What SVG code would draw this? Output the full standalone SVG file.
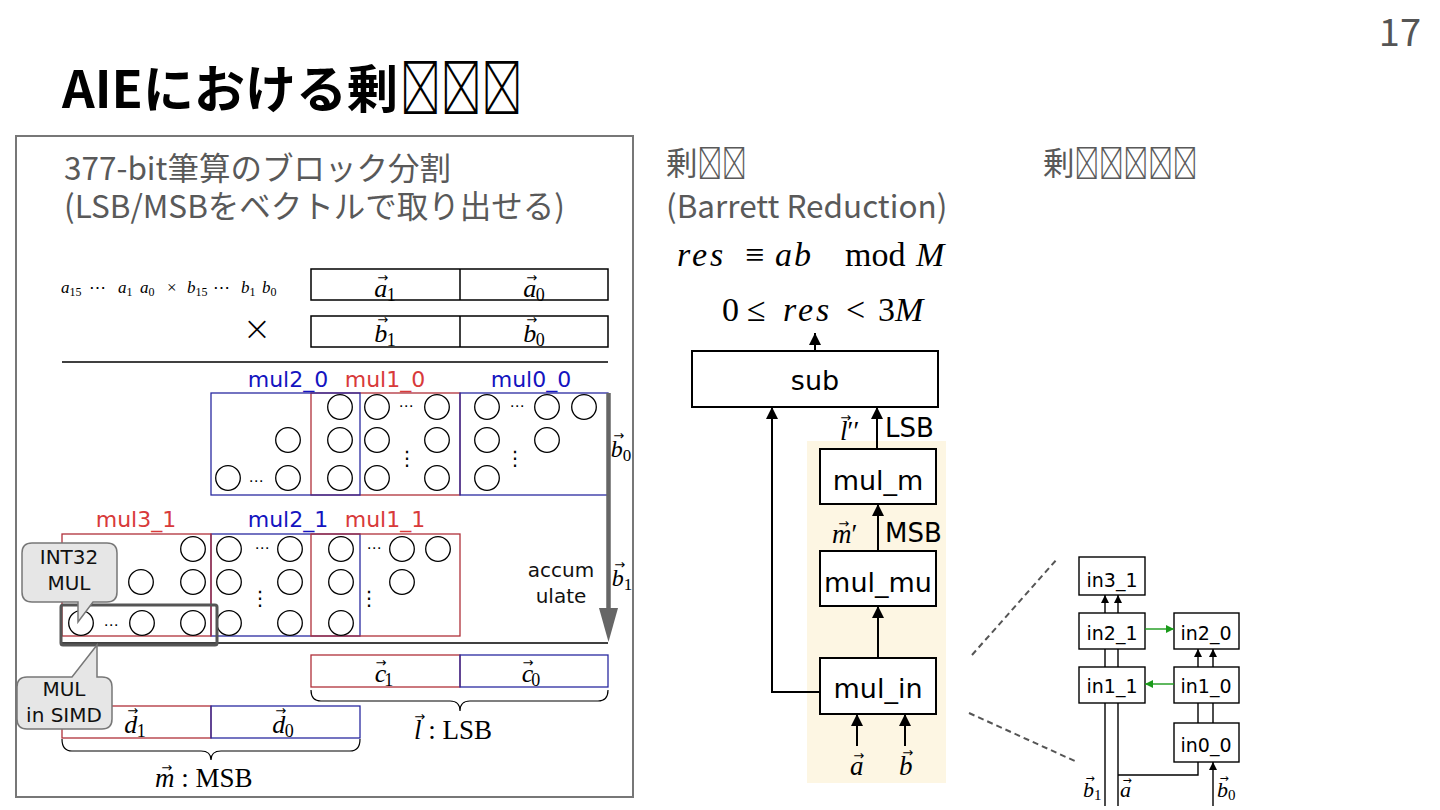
<svg xmlns="http://www.w3.org/2000/svg" width="1440" height="810" viewBox="0 0 1440 810">
<defs>
<style>
.hd{font-family:"Noto Sans CJK JP","Noto Sans",sans-serif;fill:#595959;font-size:31.5px}
.ttl{font-family:"Noto Sans CJK JP","Noto Sans",sans-serif;font-weight:bold;font-size:51px;fill:#000}
.ds{font-family:"DejaVu Sans",sans-serif}
.lab{font-family:"DejaVu Sans",sans-serif;font-size:22px;text-anchor:middle}
.m{font-family:"Liberation Serif","DejaVu Serif",serif;font-style:italic;fill:#000}
.r{font-style:normal}
.vt{font-family:"DejaVu Sans",sans-serif;font-size:13px;font-style:normal}
.vs{font-family:"DejaVu Sans",sans-serif;font-size:11px;font-style:normal}
.dots{font-family:"DejaVu Sans",sans-serif;font-size:15px;text-anchor:middle;fill:#000}
.vd{font-family:"DejaVu Sans",sans-serif;font-size:20px;text-anchor:middle;fill:#000}
.c{fill:#fff;stroke:#000;stroke-width:1.3}
.blue{fill:none;stroke:#2a2aa0;stroke-width:1.3}
.red{fill:none;stroke:#b0303a;stroke-width:1.3}
.bl{fill:#1414c0}
.rd{fill:#d83a3a}
.bx{fill:none;stroke:#000;stroke-width:1.5}
.box{fill:#fff;stroke:#000;stroke-width:2}
.sbox{fill:#fff;stroke:#000;stroke-width:1.4}
.ln{fill:none;stroke:#000;stroke-width:2}
.ln2{fill:none;stroke:#000;stroke-width:1.4}
.gr{fill:none;stroke:#1a9a1a;stroke-width:1.4}
.call{fill:#e6e6e6;stroke:#777;stroke-width:1.5}
.bt{font-family:"DejaVu Sans",sans-serif;font-size:27px;text-anchor:middle;fill:#000}
.st{font-family:"DejaVu Sans",sans-serif;font-size:19px;text-anchor:middle;fill:#000}
.ct{font-family:"DejaVu Sans",sans-serif;font-size:20px;text-anchor:middle;fill:#111}
.dash{fill:none;stroke:#555;stroke-width:2;stroke-dasharray:6 4}
</style>
<marker id="ah" viewBox="0 0 10 10" refX="10" refY="5" markerWidth="6" markerHeight="6" orient="auto"><path d="M0,0 L10,5 L0,10 z" fill="#000"/></marker>
<marker id="ahg" viewBox="0 0 10 10" refX="10" refY="5" markerWidth="6" markerHeight="6" orient="auto"><path d="M0,0 L10,5 L0,10 z" fill="#1a9a1a"/></marker>
</defs>
<rect width="1440" height="810" fill="#fff"/>

<!-- title and page number -->
<g id="title">
<text class="ttl" x="62" y="108">AIEにおける剰</text>
<text class="ttl" transform="translate(400,108) scale(0.8,1.04)">&#xE000;&#xE001;&#xE002;</text>
</g>
<text x="1421" y="46" text-anchor="end" style="font-family:'Noto Sans CJK JP','Noto Sans',sans-serif;font-size:38px;fill:#555">17</text>

<!-- left panel -->
<g id="left-panel">
<rect x="16" y="136" width="617" height="661" fill="none" stroke="#777" stroke-width="2"/>
<text class="hd" x="64" y="180">377-bit筆算のブロック分割</text>
<text class="hd" x="64" y="218">(LSB/MSBをベクトルで取り出せる)</text>

<text class="m" y="293" font-size="17"><tspan x="61">a</tspan><tspan class="r" font-size="12" dy="3">15</tspan><tspan class="r" x="89" dy="-3">⋯</tspan><tspan x="118">a</tspan><tspan class="r" font-size="12" dy="3">1</tspan><tspan x="140" dy="-3">a</tspan><tspan class="r" font-size="12" dy="3">0</tspan><tspan class="r" x="167" dy="-3">×</tspan><tspan x="187">b</tspan><tspan class="r" font-size="12" dy="3">15</tspan><tspan class="r" x="213" dy="-3">⋯</tspan><tspan x="241">b</tspan><tspan class="r" font-size="12" dy="3">1</tspan><tspan x="262" dy="-3">b</tspan><tspan class="r" font-size="12" dy="3">0</tspan></text>

<g id="vec-a">
<rect class="bx" x="311" y="269" width="297" height="31"/>
<line class="bx" x1="460" y1="269" x2="460" y2="300"/>
<text class="m" x="385" y="297" font-size="26" text-anchor="middle">a<tspan class="vt" dx="-9.95" dy="-15">→</tspan><tspan class="r" font-size="18" dx="-1.45" dy="19">1</tspan></text>
<text class="m" x="534" y="297" font-size="26" text-anchor="middle">a<tspan class="vt" dx="-9.95" dy="-15">→</tspan><tspan class="r" font-size="18" dx="-1.45" dy="19">0</tspan></text>
</g>
<text x="257" y="340" text-anchor="middle" style="font-family:'DejaVu Sans',sans-serif;font-size:34px;font-weight:200;fill:#000">×</text>
<g id="vec-b">
<rect class="bx" x="311" y="316" width="297" height="31"/>
<line class="bx" x1="460" y1="316" x2="460" y2="347"/>
<text class="m" x="385" y="342" font-size="26" text-anchor="middle">b<tspan class="vt" dx="-9.95" dy="-18">→</tspan><tspan class="r" font-size="18" dx="-1.45" dy="22">1</tspan></text>
<text class="m" x="534" y="342" font-size="26" text-anchor="middle">b<tspan class="vt" dx="-9.95" dy="-18">→</tspan><tspan class="r" font-size="18" dx="-1.45" dy="22">0</tspan></text>
</g>
<line x1="62" y1="362" x2="608" y2="362" stroke="#000" stroke-width="1.3"/>

<!-- row 0 -->
<g id="row0">
<text class="lab bl" x="288" y="387">mul2_0</text>
<text class="lab rd" x="385" y="387">mul1_0</text>
<text class="lab bl" x="531" y="387">mul0_0</text>
<rect class="red" x="311" y="393" width="149" height="102"/>
<rect class="blue" x="211" y="393" width="149" height="102"/>
<rect class="blue" x="460" y="393" width="148" height="102"/>
<g class="c">
<circle cx="340" cy="407" r="12.3"/><circle cx="377" cy="407" r="12.3"/><circle cx="437" cy="407" r="12.3"/><circle cx="487" cy="407" r="12.3"/><circle cx="547" cy="407" r="12.3"/><circle cx="584" cy="407" r="12.3"/>
<circle cx="288" cy="440" r="12.3"/><circle cx="340" cy="440" r="12.3"/><circle cx="377" cy="440" r="12.3"/><circle cx="437" cy="440" r="12.3"/><circle cx="487" cy="440" r="12.3"/><circle cx="547" cy="440" r="12.3"/>
<circle cx="228" cy="478" r="12.3"/><circle cx="288" cy="478" r="12.3"/><circle cx="340" cy="478" r="12.3"/><circle cx="377" cy="478" r="12.3"/><circle cx="437" cy="478" r="12.3"/><circle cx="487" cy="478" r="12.3"/>
</g>
<text class="dots" x="406" y="411">⋯</text>
<text class="dots" x="517" y="411">⋯</text>
<text class="dots" x="256" y="486">⋯</text>
<text class="vd" x="407" y="465">⋮</text>
<text class="vd" x="515" y="465">⋮</text>
</g>

<!-- row 1 -->
<g id="row1">
<text class="lab rd" x="136" y="527">mul3_1</text>
<text class="lab bl" x="288" y="527">mul2_1</text>
<text class="lab rd" x="385" y="527">mul1_1</text>
<rect class="blue" x="211" y="534" width="149" height="102"/>
<rect class="red" x="62" y="534" width="149" height="102"/>
<rect class="red" x="311" y="534" width="149" height="102"/>
<g class="c">
<circle cx="193" cy="549" r="12.3"/><circle cx="229" cy="549" r="12.3"/><circle cx="290" cy="549" r="12.3"/><circle cx="341" cy="549" r="12.3"/><circle cx="402" cy="549" r="12.3"/><circle cx="438" cy="549" r="12.3"/>
<circle cx="141" cy="582" r="12.3"/><circle cx="193" cy="582" r="12.3"/><circle cx="229" cy="582" r="12.3"/><circle cx="290" cy="582" r="12.3"/><circle cx="341" cy="582" r="12.3"/><circle cx="402" cy="582" r="12.3"/>
<circle cx="81" cy="623" r="12.3"/><circle cx="142" cy="623" r="12.3"/><circle cx="193" cy="623" r="12.3"/><circle cx="229" cy="623" r="12.3"/><circle cx="290" cy="623" r="12.3"/><circle cx="341" cy="623" r="12.3"/>
</g>
<text class="dots" x="262" y="553">⋯</text>
<text class="dots" x="374" y="553">⋯</text>
<text class="dots" x="111" y="630">⋯</text>
<text class="vd" x="260" y="605">⋮</text>
<text class="vd" x="369" y="605">⋮</text>
</g>

<!-- accumulate arrow -->
<g id="accumulate">
<line x1="608.5" y1="393" x2="608.5" y2="612" stroke="#666" stroke-width="4.5"/>
<polygon points="599,608 618,608 608.5,642" fill="#666"/>
<text class="m" x="621" y="457" font-size="24" text-anchor="middle">b<tspan class="vt" dx="-9.45" dy="-17">→</tspan><tspan class="r" font-size="17" dx="-1.45" dy="21">0</tspan></text>
<text class="m" x="622" y="586" font-size="24" text-anchor="middle">b<tspan class="vt" dx="-9.45" dy="-17">→</tspan><tspan class="r" font-size="17" dx="-1.45" dy="21">1</tspan></text>
<text class="ct" x="561" y="577" fill="#000">accum</text>
<text class="ct" x="561" y="603" fill="#000">ulate</text>
</g>
<line x1="62" y1="643" x2="608" y2="643" stroke="#000" stroke-width="1.3"/>

<!-- c -->
<g id="vec-c">
<rect class="red" x="311" y="655" width="149" height="32"/>
<rect class="blue" x="460" y="655" width="148" height="32"/>
<text class="m" x="384" y="682" font-size="26" text-anchor="middle">c<tspan class="vt" dx="-10.7" dy="-15">→</tspan><tspan class="r" font-size="18" dx="-2.2" dy="19">1</tspan></text>
<text class="m" x="531" y="682" font-size="26" text-anchor="middle">c<tspan class="vt" dx="-10.7" dy="-15">→</tspan><tspan class="r" font-size="18" dx="-2.2" dy="19">0</tspan></text>
<path d="M311,690 Q311,701 321,701 H450 Q460,701 460,711 Q460,701 470,701 H598 Q608,701 608,690" fill="none" stroke="#000" stroke-width="1.2"/>
<text class="m" x="414" y="739" font-size="27">l<tspan class="vt" dx="-7.3" dy="-18">→</tspan><tspan class="r" dx="-3.6" dy="18"> : LSB</tspan></text>
</g>

<!-- d -->
<g id="vec-d">
<rect class="red" x="62" y="706" width="149" height="32"/>
<rect class="blue" x="211" y="706" width="149" height="32"/>
<text class="m" x="135" y="733" font-size="26" text-anchor="middle">d<tspan class="vt" dx="-9.95" dy="-18">→</tspan><tspan class="r" font-size="18" dx="-1.45" dy="22">1</tspan></text>
<text class="m" x="283" y="733" font-size="26" text-anchor="middle">d<tspan class="vt" dx="-9.95" dy="-18">→</tspan><tspan class="r" font-size="18" dx="-1.45" dy="22">0</tspan></text>
<path d="M62,739 Q62,751 72,751 H201 Q211,751 211,760 Q211,751 221,751 H350 Q360,751 360,739" fill="none" stroke="#000" stroke-width="1.2"/>
<text class="m" x="155" y="787" font-size="27">m<tspan class="vt" dx="-13.2" dy="-15">→</tspan><tspan class="r" dx="2.2" dy="15"> : MSB</tspan></text>
</g>

<!-- highlight and callouts -->
<rect x="61" y="605" width="156" height="40" rx="2" fill="none" stroke="#555" stroke-width="3"/>
<g id="callout-int32">
<path class="call" d="M32,543 H107 Q117,543 117,553 V592 Q117,602 107,602 H93 L78,622 V602 H32 Q22,602 22,592 V553 Q22,543 32,543 Z"/>
<text class="ct" x="69" y="564">INT32</text>
<text class="ct" x="69" y="590">MUL</text>
</g>
<g id="callout-simd">
<path class="call" d="M27,677 H72 L97,645 V677 H102 Q112,677 112,687 V719 Q112,729 102,729 H27 Q17,729 17,719 V687 Q17,677 27,677 Z"/>
<text class="ct" x="64" y="696">MUL</text>
<text class="ct" x="64" y="722">in SIMD</text>
</g>
</g>

<!-- right headers -->
<g id="header-barrett">
<text class="hd" x="666" y="175">剰</text>
<text class="hd" transform="translate(697.5,175) scale(0.78,1)">&#xE000;&#xE001;</text>
<text class="hd" x="666" y="218">(Barrett Reduction)</text>
</g>
<g id="header-right">
<text class="hd" x="1043" y="175">剰</text>
<text class="hd" transform="translate(1074.5,175) scale(0.78,1)">&#xE000;&#xE001;&#xE002;&#xE003;&#xE004;</text>
</g>

<!-- equations -->
<text class="m" y="266" font-size="34"><tspan x="677" letter-spacing="3">res</tspan><tspan class="r" x="745">≡</tspan><tspan x="775" letter-spacing="2">ab</tspan><tspan class="r" x="845">mod</tspan><tspan x="916">M</tspan></text>
<text class="m" y="321" font-size="34"><tspan class="r" x="722">0</tspan><tspan class="r" x="747">≤</tspan><tspan x="783" letter-spacing="3">res</tspan><tspan class="r" x="846">&lt;</tspan><tspan class="r" x="878">3</tspan><tspan>M</tspan></text>

<!-- Barrett diagram -->
<rect x="807" y="441" width="139" height="342" fill="#fdf6e3"/>
<g id="node-sub"><rect class="box" x="692" y="351" width="246" height="56"/><text class="bt" x="815" y="390">sub</text></g>
<g id="node-mul_m"><rect class="box" x="820" y="449" width="116" height="55"/><text class="bt" x="878" y="490">mul_m</text></g>
<g id="node-mul_mu"><rect class="box" x="820" y="551" width="116" height="55"/><text class="bt" x="878" y="592">mul_mu</text></g>
<g id="node-mul_in"><rect class="box" x="820" y="658" width="116" height="56"/><text class="bt" x="878" y="698">mul_in</text></g>

<!-- small diagram nodes -->
<g id="node-in3_1"><rect class="sbox" x="1079" y="557" width="66" height="38"/><text class="st" x="1112" y="587">in3_1</text></g>
<g id="node-in2_1"><rect class="sbox" x="1079" y="613" width="66" height="36"/><text class="st" x="1112" y="640">in2_1</text></g>
<g id="node-in2_0"><rect class="sbox" x="1174" y="613" width="65" height="36"/><text class="st" x="1206" y="640">in2_0</text></g>
<g id="node-in1_1"><rect class="sbox" x="1079" y="667" width="66" height="36"/><text class="st" x="1112" y="693">in1_1</text></g>
<g id="node-in1_0"><rect class="sbox" x="1174" y="667" width="65" height="36"/><text class="st" x="1206" y="693">in1_0</text></g>
<g id="node-in0_0"><rect class="sbox" x="1174" y="723" width="65" height="39"/><text class="st" x="1206" y="752">in0_0</text></g>

<g id="connectors">
<line class="ln" x1="815" y1="351" x2="815" y2="333" marker-end="url(#ah)"/>
<path class="ln" d="M820,692 H772 V407" marker-end="url(#ah)"/>
<line class="ln" x1="877" y1="449" x2="877" y2="407" marker-end="url(#ah)"/>
<line class="ln" x1="878" y1="551" x2="878" y2="504" marker-end="url(#ah)"/>
<line class="ln" x1="878" y1="658" x2="878" y2="606" marker-end="url(#ah)"/>
<line class="ln" x1="857" y1="746" x2="857" y2="714" marker-end="url(#ah)"/>
<line class="ln" x1="905" y1="746" x2="905" y2="714" marker-end="url(#ah)"/>

<line class="ln2" x1="1105" y1="613" x2="1105" y2="595" marker-end="url(#ah)"/>
<line class="ln2" x1="1118" y1="613" x2="1118" y2="595" marker-end="url(#ah)"/>
<line class="ln2" x1="1105" y1="649" x2="1105" y2="667"/>
<line class="ln2" x1="1118" y1="649" x2="1118" y2="667"/>
<line class="ln2" x1="1198" y1="667" x2="1198" y2="649" marker-end="url(#ah)"/>
<line class="ln2" x1="1213" y1="667" x2="1213" y2="649" marker-end="url(#ah)"/>
<line class="ln2" x1="1198" y1="703" x2="1198" y2="723"/>
<line class="ln2" x1="1213" y1="703" x2="1213" y2="723"/>
<line class="ln2" x1="1105" y1="703" x2="1105" y2="806"/>
<line class="ln2" x1="1118" y1="703" x2="1118" y2="806"/>
<path class="ln2" d="M1118,775 H1198 V762"/>
<line class="ln2" x1="1213" y1="806" x2="1213" y2="762" marker-end="url(#ah)"/>
<line class="gr" x1="1145" y1="629" x2="1174" y2="629" marker-end="url(#ahg)"/>
<line class="gr" x1="1174" y1="684" x2="1145" y2="684" marker-end="url(#ahg)"/>

<line class="dash" x1="972" y1="655" x2="1058" y2="558"/>
<line class="dash" x1="969" y1="713" x2="1077" y2="762"/>
</g>

<!-- connector labels -->
<text class="m" x="840" y="440" font-size="27">l<tspan class="vt" dx="-7.3" dy="-18">→</tspan><tspan class="r" dx="-3.6" dy="18">′′</tspan></text>
<text class="ds" x="885" y="437" font-size="26">LSB</text>
<text class="m" x="832" y="543" font-size="27">m<tspan class="vt" dx="-13.2" dy="-15">→</tspan><tspan class="r" dx="2.2" dy="15">′</tspan></text>
<text class="ds" x="885" y="542" font-size="26">MSB</text>
<text class="m" x="850" y="775" font-size="27">a<tspan class="vt" dx="-10.2" dy="-15">→</tspan></text>
<text class="m" x="899" y="775" font-size="27">b<tspan class="vt" dx="-10.2" dy="-18">→</tspan></text>
<text class="m" x="1083" y="797" font-size="22">b<tspan class="vs" dx="-8.6" dy="-15">→</tspan><tspan class="r" font-size="15" dx="-0.6" dy="18">1</tspan></text>
<text class="m" x="1120" y="797" font-size="22">a<tspan class="vs" dx="-8.6" dy="-13">→</tspan></text>
<text class="m" x="1217" y="797" font-size="22">b<tspan class="vs" dx="-8.6" dy="-15">→</tspan><tspan class="r" font-size="15" dx="-0.6" dy="18">0</tspan></text>
</svg>
